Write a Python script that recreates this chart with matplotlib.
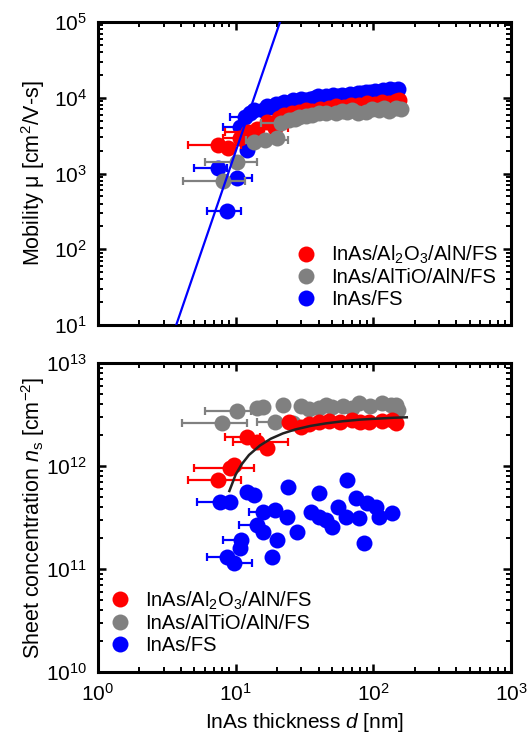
import matplotlib
matplotlib.use("Agg")
import matplotlib.pyplot as plt
import numpy as np
from matplotlib.lines import Line2D
from matplotlib.ticker import LogLocator, NullFormatter

plt.rcParams['font.family'] = ['Liberation Sans', 'DejaVu Sans']
plt.rcParams['mathtext.fontset'] = 'custom'
plt.rcParams['mathtext.rm'] = 'Liberation Sans'
plt.rcParams['mathtext.it'] = 'Liberation Sans:italic'
plt.rcParams['mathtext.default'] = 'regular'

# ---------------- data: mobility (top panel) ----------------
mu_red_d = [7.4, 8.8, 10.7, 12.2, 14.2, 16.8, 19.2, 20.5, 22.5, 25.5, 29.0, 32.5, 36.0, 41.0, 48.0, 54.0, 61.0, 69.0, 79.0, 90.0, 102.0, 116.0, 131.0, 145.0, 154.0]
mu_red_v = [2410, 2200, 2980, 3570, 3900, 4830, 4030, 5400, 5980, 6300, 6540, 6900, 6700, 7200, 7390, 7800, 7600, 8000, 8090, 8500, 8300, 8900, 8600, 9100, 9420]
mu_red_xlo = [4.49, 0, 8.05, 8.3, 0, 0, 14.0, 0, 0, 0, 0, 0, 0, 0, 0, 0, 0, 0, 0, 0, 0, 0, 0, 0, 0]
mu_red_xhi = [11.0, 0, 14.9, 15.5, 0, 0, 23.8, 0, 0, 0, 0, 0, 0, 0, 0, 0, 0, 0, 0, 0, 0, 0, 0, 0, 0]

mu_gray_d = [8.05, 10.2, 13.7, 16.2, 19.8, 21.5, 24.6, 27.0, 29.0, 32.5, 36.0, 40.5, 45.6, 54.0, 59.0, 64.0, 70.0, 77.0, 89.0, 98.0, 110.0, 120.0, 131.0, 147.0, 160.0]
mu_gray_v = [785, 1400, 2640, 2800, 2980, 4600, 5140, 5300, 5620, 5800, 5980, 6300, 6350, 6200, 6700, 6540, 6900, 6350, 6540, 7000, 6950, 7300, 6750, 7390, 7100]
mu_gray_xlo = [4.13, 5.96, 0, 11.8, 0, 15.4, 0, 0, 0, 0, 0, 0, 0, 0, 0, 0, 0, 0, 0, 0, 0, 0, 0, 0, 0]
mu_gray_xhi = [11.6, 14.4, 0, 23.8, 0, 27.7, 0, 0, 0, 0, 0, 0, 0, 0, 0, 0, 0, 0, 0, 0, 0, 0, 0, 0, 0]

mu_blue_d = [7.5, 8.6, 10.2, 12.0, 10.7, 11.6, 12.8, 13.7, 15.7, 17.0, 18.0, 19.5, 21.0, 22.5, 24.6, 26.0, 28.0, 30.0, 32.0, 34.5, 37.0, 39.5, 42.6, 45.0, 48.0, 51.0, 55.0, 59.0, 63.7, 67.5, 72.0, 77.0, 82.0, 88.0, 95.0, 102.0, 110.0, 117.0, 125.0, 132.0, 140.0, 150.0]
mu_blue_v = [1200, 316, 885, 2070, 4150, 5620, 6200, 6950, 6950, 7800, 7600, 8300, 8200, 8900, 8600, 9300, 9000, 9700, 9400, 9600, 9800, 10400, 10000, 10600, 10300, 10800, 10400, 11000, 10600, 11300, 11000, 11500, 11600, 12000, 11800, 12400, 12000, 12600, 12300, 12900, 12500, 13000]
mu_blue_xlo = [4.96, 6.17, 8.6, 0, 8.05, 9.05] + [0] * 36
mu_blue_xhi = [8.6, 11.0, 13.1, 0, 12.0, 12.6] + [0] * 36

fit_mu_d = [3.7, 21.0]
fit_mu_v = [10.0, 1.0e5]

# ---------------- data: sheet concentration (bottom panel) ----------------
ns_gray_d = [7.9, 10.2, 14.2, 15.7, 19.2, 22.0, 25.9, 30.0, 34.0, 40.0, 45.0, 50.0, 60.0, 70.0, 79.0, 95.0, 116.0, 135.0, 147.0, 150.0]
ns_gray_v = [2.6e12, 3.4e12, 3.66e12, 3.74e12, 2.67e12, 3.91e12, 2.61e12, 3.8e12, 3.6e12, 3.66e12, 3.9e12, 3.74e12, 3.85e12, 3.66e12, 4.09e12, 3.8e12, 4.09e12, 3.95e12, 3.91e12, 3.5e12]
ns_gray_xlo = [4.06, 5.96, 0, 0, 14.2] + [0] * 15
ns_gray_xhi = [12.0, 13.0, 0, 0, 24.0] + [0] * 15

ns_red_d = [7.4, 9.1, 9.8, 12.0, 14.2, 16.8, 24.6, 30.0, 34.0, 40.0, 48.0, 57.0, 70.0, 80.0, 93.0, 115.0, 137.0, 147.0]
ns_red_v = [7.3e11, 9.5e11, 1.02e12, 1.91e12, 1.71e12, 1.5e12, 2.67e12, 2.39e12, 2.55e12, 2.67e12, 2.75e12, 2.67e12, 2.8e12, 2.7e12, 2.67e12, 2.75e12, 2.8e12, 2.61e12]
ns_red_xlo = [4.49, 5.0, 0, 8.3, 9.51] + [0] * 13
ns_red_xhi = [11.0, 13.7, 0, 14.9, 23.8] + [0] * 13

ns_blue_d = [7.65, 9.05, 12.0, 13.7, 23.8, 40.5, 64.6, 75.0, 90.0, 105.0, 15.7, 19.2, 23.5, 35.5, 40.5, 45.6, 55.0, 63.7, 79.0, 110.0, 137.0, 14.2, 15.7, 20.0, 27.7, 50.5, 86.0, 11.0, 10.7, 8.6, 9.8, 18.3]
ns_blue_v = [4.47e11, 4.47e11, 5.6e11, 5.23e11, 6.25e11, 5.47e11, 7.31e11, 4.89e11, 4.37e11, 4.0e11, 3.57e11, 3.74e11, 3.2e11, 3.57e11, 3.2e11, 2.99e11, 4.0e11, 3.2e11, 3.13e11, 3.2e11, 3.5e11, 2.67e11, 2.29e11, 1.91e11, 2.29e11, 2.56e11, 1.79e11, 1.91e11, 1.6e11, 1.31e11, 1.14e11, 1.31e11]
ns_blue_xlo = [5.2, 0, 0, 0, 0, 0, 0, 0, 0, 0, 12.5, 0, 0, 0, 0, 0, 0, 0, 0, 0, 0, 10.5, 0, 0, 0, 0, 0, 8.05, 0, 6.2, 0, 0]
ns_blue_xhi = [9.5, 0, 0, 13.7, 0, 0, 0, 0, 0, 0, 0, 0, 0, 0, 0, 0, 0, 0, 0, 0, 0, 0, 0, 0, 0, 0, 0, 0, 0, 0, 13.1, 0]

fit_ns_d = [9.0, 10, 11, 12.5, 15, 18, 22, 27, 35, 45, 60, 80, 110, 140, 175]
fit_ns_v = [5.72e11, 8.25e11, 1.03e12, 1.28e12, 1.58e12, 1.84e12, 2.07e12, 2.26e12, 2.45e12, 2.59e12, 2.72e12, 2.82e12, 2.89e12, 2.94e12, 2.97e12]

labels = ['InAs/Al$_2$O$_3$/AlN/FS', 'InAs/AlTiO/AlN/FS', 'InAs/FS']
RED, GRAY, BLUE = '#ff0000', '#808080', '#0000ff'
MS = 11.5

fig = plt.figure(figsize=(5.27, 7.38), dpi=100)
ax1 = fig.add_axes([98/527, 1-325/738, 413/527, 303/738])
ax2 = fig.add_axes([98/527, 1-672/738, 413/527, 309/738])


def series(ax, d, v, xlo, xhi, color, z):
    d = np.array(d); v = np.array(v); xlo = np.array(xlo); xhi = np.array(xhi)
    m = (xlo > 0) | (xhi > 0)
    lo = np.where(xlo > 0, d - xlo, 0)
    hi = np.where(xhi > 0, xhi - d, 0)
    ax.errorbar(d[m], v[m], xerr=[lo[m], hi[m]], fmt='none', ecolor=color,
                elinewidth=1.6, capsize=2.8, capthick=1.6, zorder=z)
    ax.plot(d, v, 'o', ms=MS, color=color, mec='none', zorder=z + 0.5)


series(ax1, mu_blue_d, mu_blue_v, mu_blue_xlo, mu_blue_xhi, BLUE, 2)
series(ax1, mu_red_d, mu_red_v, mu_red_xlo, mu_red_xhi, RED, 3)
series(ax1, mu_gray_d, mu_gray_v, mu_gray_xlo, mu_gray_xhi, GRAY, 4)
ax1.plot(fit_mu_d, fit_mu_v, '-', color=BLUE, lw=1.6, zorder=5)

series(ax2, ns_blue_d, ns_blue_v, ns_blue_xlo, ns_blue_xhi, BLUE, 2)
series(ax2, ns_gray_d, ns_gray_v, ns_gray_xlo, ns_gray_xhi, GRAY, 3)
series(ax2, ns_red_d, ns_red_v, ns_red_xlo, ns_red_xhi, RED, 4)
ax2.plot(fit_ns_d, fit_ns_v, '-', color='#222222', lw=1.8, zorder=6)

for ax in (ax1, ax2):
    ax.set_xscale('log')
    ax.set_yscale('log')
    ax.set_xlim(1, 1000)
    for s in ax.spines.values():
        s.set_linewidth(2.2)
    ax.tick_params(which='both', direction='in', top=True, right=True, labelsize=15, pad=8)
    ax.tick_params(which='major', length=6, width=1.8)
    ax.tick_params(which='minor', length=3.5, width=1.4)
    ax.xaxis.set_minor_locator(LogLocator(base=10, subs=np.arange(2, 10), numticks=20))
    ax.yaxis.set_minor_locator(LogLocator(base=10, subs=np.arange(2, 10), numticks=20))
    ax.xaxis.set_minor_formatter(NullFormatter())
    ax.yaxis.set_minor_formatter(NullFormatter())

ax1.set_ylim(10, 1e5)
ax1.tick_params(axis='x', which='both', labelbottom=False)
ax2.set_ylim(1e10, 1e13)

ax1.set_ylabel('Mobility \u03bc [cm$^2$/V-s]', fontsize=15.5)
ax2.set_ylabel('Sheet concentration $\\mathit{n}_{s}$ [cm$^{-2}$]', fontsize=15.5)
ax2.set_xlabel('InAs thickness $\\mathit{d}$ [nm]', fontsize=15)
ax1.yaxis.set_label_coords(-0.123, 0.5)
ax2.yaxis.set_label_coords(-0.123, 0.5)

handles = [Line2D([], [], marker='o', ls='none', ms=MS, color=c, mec='none') for c in (RED, GRAY, BLUE)]
ax1.legend(handles, labels, loc='lower left', bbox_to_anchor=(0.46, 0.027), frameon=False,
           fontsize=14.5, handlelength=1.0, handletextpad=0.75, labelspacing=0.12, borderaxespad=0)
ax2.legend(handles, labels, loc='lower left', bbox_to_anchor=(0.01, 0.03), frameon=False,
           fontsize=14.5, handlelength=1.0, handletextpad=0.75, labelspacing=0.12, borderaxespad=0)

fig.savefig('out.png', dpi=100)
